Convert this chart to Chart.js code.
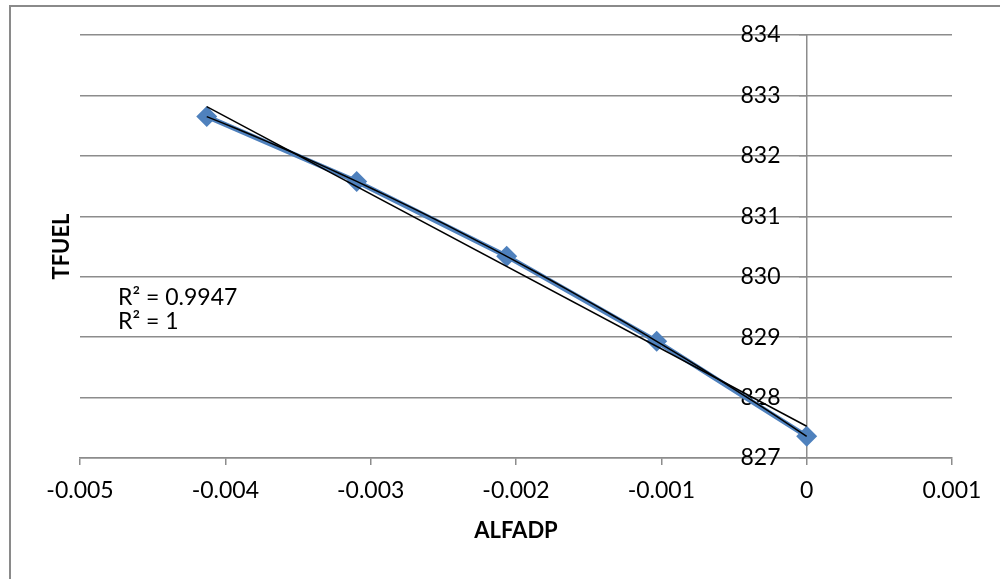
<!DOCTYPE html>
<html>
<head>
<meta charset="utf-8">
<script src="https://cdn.jsdelivr.net/npm/chart.js@4.4.1/dist/chart.umd.min.js"></script>
<style>
  html, body { margin: 0; padding: 0; background: #ffffff; }
  #wrap { width: 1000px; height: 579px; position: relative; }
</style>
</head>
<body>
<div id="wrap"><canvas id="chart" width="1000" height="579"></canvas></div>
<script>
// data
const alfadp = [-0.004128, -0.003096, -0.002064, -0.001032, 0];
const tfuel = [832.65, 831.575, 830.34, 828.93, 827.36];
const xTickValues = [-0.005, -0.004, -0.003, -0.002, -0.001, 0, 0.001];
const xTickLabels = ['-0.005', '-0.004', '-0.003', '-0.002', '-0.001', '0', '0.001'];
const yTickValues = [827, 828, 829, 830, 831, 832, 833, 834];
const yTickLabels = ['827', '828', '829', '830', '831', '832', '833', '834'];
const r2Labels = ['R² = 0.9947', 'R² = 1'];

const FONT = 'Lato';
const GRID = '#8c8c8c';

// linear trendline (least squares)
function linearFit(xs, ys) {
    const n = xs.length;
    const mx = xs.reduce((a, b) => a + b, 0) / n;
    const my = ys.reduce((a, b) => a + b, 0) / n;
    let sxy = 0, sxx = 0;
    for (let i = 0; i < n; i++) {
        sxy += (xs[i] - mx) * (ys[i] - my);
        sxx += (xs[i] - mx) * (xs[i] - mx);
    }
    const b = sxy / sxx;
    return x => my + b * (x - mx);
}

// 2nd order polynomial trendline
function polyFit(xs, ys) {
    let s = [0, 0, 0, 0, 0], t = [0, 0, 0];
    for (let i = 0; i < xs.length; i++) {
        let p = 1;
        for (let k = 0; k < 5; k++) { s[k] += p; if (k < 3) t[k] += p * ys[i]; p *= xs[i]; }
    }
    const m = [[s[0], s[1], s[2], t[0]], [s[1], s[2], s[3], t[1]], [s[2], s[3], s[4], t[2]]];
    for (let c = 0; c < 3; c++) {
        for (let r = c + 1; r < 3; r++) {
            const f = m[r][c] / m[c][c];
            for (let k = c; k < 4; k++) m[r][k] -= f * m[c][k];
        }
    }
    const co = [0, 0, 0];
    for (let r = 2; r >= 0; r--) {
        let v = m[r][3];
        for (let k = r + 1; k < 3; k++) v -= m[r][k] * co[k];
        co[r] = v / m[r][r];
    }
    return x => co[0] + co[1] * x + co[2] * x * x;
}

const lin = linearFit(alfadp, tfuel);
const poly = polyFit(alfadp, tfuel);
const xMin = Math.min(...alfadp), xMax = Math.max(...alfadp);
const linPts = [xMin, xMax].map(x => ({ x: x, y: lin(x) }));
const polyPts = [];
for (let i = 0; i <= 40; i++) {
    const x = xMin + (xMax - xMin) * i / 40;
    polyPts.push({ x: x, y: poly(x) });
}

const decorations = {
    id: 'decorations',
    afterDraw(chart) {
        const ctx = chart.ctx;
        const a = chart.chartArea;
        ctx.save();
        // outer frame
        ctx.strokeStyle = '#8a8a8a';
        ctx.lineWidth = 2;
        ctx.strokeRect(10, 6, 1100, 700);
        ctx.fillStyle = '#000';
        // axis titles
        ctx.font = 'bold 22px ' + FONT;
        ctx.textAlign = 'center';
        ctx.textBaseline = 'middle';
        ctx.fillText('ALFADP', (a.left + a.right) / 2, 531);
        ctx.translate(62, (a.top + a.bottom) / 2);
        ctx.rotate(-Math.PI / 2);
        ctx.fillText('TFUEL', 0, 0);
        ctx.restore();
        ctx.save();
        ctx.fillStyle = '#000';
        ctx.font = '23px ' + FONT;
        ctx.textAlign = 'left';
        ctx.textBaseline = 'alphabetic';
        ctx.fillText(r2Labels[0], 118, 305);
        ctx.fillText(r2Labels[1], 118, 329);
        ctx.restore();
    }
};

const tickFont = { family: FONT, size: 23 };

new Chart(document.getElementById('chart'), {
    type: 'scatter',
    data: {
        datasets: [
            {
                label: 'linear',
                data: linPts,
                showLine: true,
                borderColor: '#000000',
                borderWidth: 1.5,
                pointRadius: 0
            },
            {
                label: 'poly',
                data: polyPts,
                showLine: true,
                borderColor: '#000000',
                borderWidth: 1.5,
                pointRadius: 0
            },
            {
                label: 'TFUEL',
                data: alfadp.map((x, i) => ({ x: x, y: tfuel[i] })),
                showLine: true,
                borderColor: '#4F81BD',
                borderWidth: 5,
                pointStyle: 'rectRot',
                pointRadius: 10.5,
                pointBackgroundColor: '#4F81BD',
                pointBorderColor: '#4F81BD',
                pointBorderWidth: 0
            }
        ]
    },
    options: {
        responsive: false,
        animation: false,
        layout: { padding: { left: 80, right: 48, top: 35, bottom: 0 } },
        plugins: {
            legend: { display: false },
            tooltip: { enabled: false }
        },
        scales: {
            x: {
                type: 'linear',
                position: 'bottom',
                min: xTickValues[0],
                max: xTickValues[xTickValues.length - 1],
                afterBuildTicks: s => { s.ticks = xTickValues.map(v => ({ value: v })); },
                afterFit: s => { s.height = 121; },
                ticks: {
                    callback: (v, i) => xTickLabels[i],
                    color: '#000',
                    font: tickFont,
                    padding: 12,
                    maxRotation: 0,
                    autoSkip: false
                },
                grid: {
                    drawOnChartArea: false,
                    tickLength: 7,
                    color: GRID,
                    lineWidth: 1.5
                },
                border: { display: true, color: GRID, width: 1.5 }
            },
            // value axis crossing at x = 0: gridlines, axis line and tick marks
            y: {
                type: 'linear',
                position: { x: 0 },
                min: yTickValues[0],
                max: yTickValues[yTickValues.length - 1],
                afterBuildTicks: s => { s.ticks = yTickValues.map(v => ({ value: v })); },
                ticks: { display: false },
                grid: {
                    drawOnChartArea: true,
                    tickLength: 7,
                    color: GRID,
                    lineWidth: 1.5
                },
                border: { display: true, color: GRID, width: 1.5 }
            },
            // same axis, labels only, set a little left of the axis line
            yLabels: {
                type: 'linear',
                axis: 'y',
                position: { x: -0.00018 },
                min: yTickValues[0],
                max: yTickValues[yTickValues.length - 1],
                afterBuildTicks: s => { s.ticks = yTickValues.map(v => ({ value: v })); },
                ticks: {
                    callback: (v, i) => yTickLabels[i],
                    color: '#000',
                    font: tickFont,
                    autoSkip: false
                },
                grid: { display: false },
                border: { display: false }
            }
        }
    },
    plugins: [decorations]
});
</script>
</body>
</html>
